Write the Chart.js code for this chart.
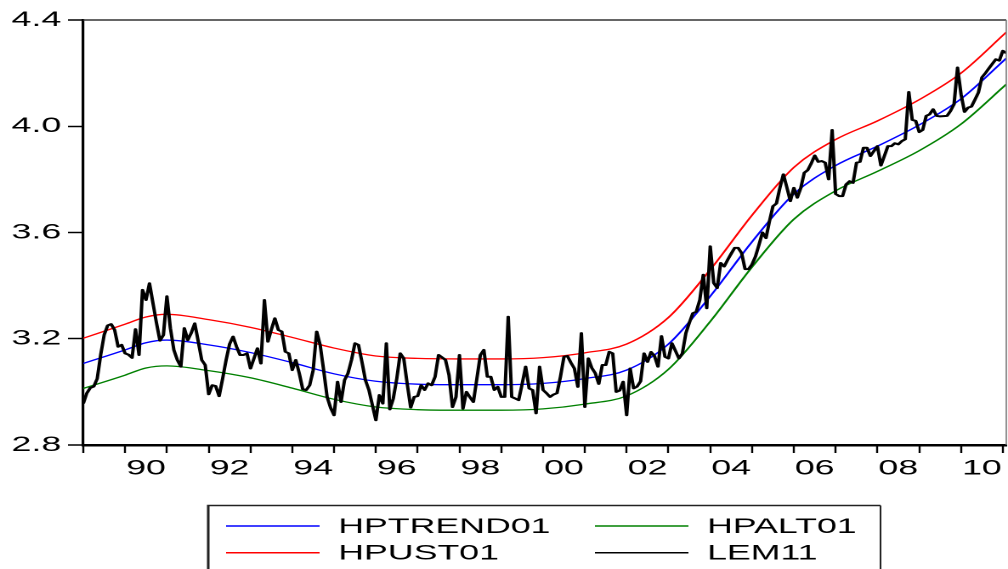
<!DOCTYPE html>
<html>
<head>
<meta charset="utf-8">
<script src="https://cdn.jsdelivr.net/npm/chart.js@4.4.0/dist/chart.umd.min.js"></script>
<style>
html, body { margin: 0; padding: 0; background: #fff; overflow: hidden; }
/* the original graph is stretched sideways, so draw narrow and widen it */
#wrap { width: 593px; height: 569px; transform: scale(1.6998, 1); transform-origin: 0 0; }
</style>
</head>
<body>
<div id="wrap"><canvas id="chart" width="593" height="569"></canvas></div>
<script>
// monthly data, first observation 1989M01, last 2011M02
var startYear = 1989;

var lem11 = [
  2.956, 2.995, 3.015, 3.020, 3.050, 3.140, 3.215, 3.250, 3.255, 3.233,
  3.170, 3.177, 3.145, 3.140, 3.128, 3.236, 3.139, 3.384, 3.346, 3.409,
  3.334, 3.260, 3.193, 3.214, 3.360, 3.240, 3.158, 3.120, 3.095, 3.240,
  3.195, 3.222, 3.258, 3.190, 3.120, 3.101, 2.991, 3.025, 3.022, 2.984,
  3.050, 3.120, 3.180, 3.208, 3.170, 3.139, 3.139, 3.145, 3.088, 3.126,
  3.164, 3.107, 3.346, 3.189, 3.235, 3.277, 3.233, 3.227, 3.151, 3.145,
  3.082, 3.120, 3.070, 3.010, 3.007, 3.025, 3.082, 3.227, 3.177, 3.082,
  2.981, 2.940, 2.912, 3.038, 2.962, 3.044, 3.070, 3.120, 3.183, 3.177,
  3.113, 3.044, 3.007, 2.950, 2.893, 2.988, 2.956, 3.183, 2.934, 2.975,
  3.050, 3.145, 3.126, 3.030, 2.941, 2.981, 2.984, 3.025, 3.007, 3.032,
  3.025, 3.057, 3.139, 3.130, 3.120, 3.063, 2.943, 2.981, 3.139, 2.937,
  3.000, 2.980, 2.962, 3.050, 3.139, 3.158, 3.057, 3.057, 3.007, 3.019,
  2.981, 2.981, 3.283, 2.981, 2.975, 2.969, 3.030, 3.095, 3.013, 3.007,
  2.919, 3.095, 3.007, 2.995, 2.981, 2.990, 2.995, 3.057, 3.132, 3.135,
  3.110, 3.088, 3.019, 3.221, 2.943, 3.126, 3.090, 3.070, 3.030, 3.101,
  3.101, 3.151, 3.145, 3.000, 3.005, 3.038, 2.912, 3.088, 3.013, 3.020,
  3.040, 3.145, 3.113, 3.150, 3.135, 3.095, 3.210, 3.132, 3.126, 3.183,
  3.155, 3.126, 3.145, 3.221, 3.260, 3.296, 3.302, 3.346, 3.441, 3.315,
  3.548, 3.410, 3.391, 3.485, 3.472, 3.497, 3.520, 3.542, 3.542, 3.523,
  3.462, 3.462, 3.480, 3.510, 3.554, 3.600, 3.579, 3.642, 3.699, 3.709,
  3.768, 3.819, 3.770, 3.718, 3.768, 3.731, 3.768, 3.825, 3.835, 3.860,
  3.890, 3.866, 3.869, 3.863, 3.800, 3.986, 3.745, 3.737, 3.737, 3.781,
  3.793, 3.787, 3.863, 3.866, 3.919, 3.919, 3.888, 3.907, 3.925, 3.852,
  3.888, 3.925, 3.925, 3.936, 3.932, 3.944, 3.951, 4.129, 4.024, 4.020,
  3.978, 3.986, 4.039, 4.045, 4.064, 4.039, 4.037, 4.038, 4.039, 4.058,
  4.083, 4.221, 4.121, 4.054, 4.070, 4.074, 4.100, 4.127, 4.184, 4.200,
  4.218, 4.235, 4.252, 4.247, 4.284, 4.275
];

// smooth filters, read at these months (0 = 1989M01)
var trendMonths = [0, 12, 18, 24, 36, 48, 60, 72, 84, 96, 108, 120, 132, 144, 156, 168, 180, 192, 204, 216, 228, 240, 252, 265];
var hptrend01 = [3.107, 3.158, 3.185, 3.195, 3.177, 3.148, 3.110, 3.068, 3.040, 3.029, 3.027, 3.027, 3.032, 3.050, 3.082, 3.180, 3.360, 3.565, 3.745, 3.852, 3.925, 4.005, 4.103, 4.256];
var hpust01 = [3.202, 3.255, 3.282, 3.292, 3.272, 3.243, 3.205, 3.165, 3.135, 3.126, 3.124, 3.124, 3.129, 3.147, 3.180, 3.280, 3.460, 3.665, 3.845, 3.950, 4.020, 4.100, 4.200, 4.354];
var hpalt01 = [3.013, 3.063, 3.090, 3.098, 3.080, 3.053, 3.014, 2.972, 2.943, 2.933, 2.931, 2.931, 2.936, 2.954, 2.985, 3.085, 3.265, 3.470, 3.650, 3.757, 3.830, 3.908, 4.008, 4.158];

var yTicks = [2.8, 3.2, 3.6, 4.0, 4.4];
var firstYear = 1989, lastYear = 2011;

function toPoints(months, vals) {
  return vals.map(function (v, i) { return {x: startYear + months[i] / 12, y: v}; });
}
var lemMonths = lem11.map(function (v, i) { return i; });

// ticks every half year: marks on the years, labels in the middle of even years
var xTicks = [];
for (var yr = firstYear; yr <= lastYear; yr++) {
  xTicks.push({value: yr});
  if (yr < lastYear) xTicks.push({value: yr + 0.5});
}

Chart.defaults.font.family = "'Liberation Sans', Arial, sans-serif";
Chart.defaults.color = '#000';

var plotFrame = {
  id: 'plotFrame',
  afterDraw: function (chart) {
    var a = chart.chartArea, ctx = chart.ctx;
    ctx.save();
    ctx.lineWidth = 1.5;
    ctx.strokeStyle = '#333';
    ctx.beginPath(); ctx.moveTo(a.left, a.top); ctx.lineTo(a.right, a.top); ctx.stroke();
    ctx.lineWidth = 0.8;
    ctx.strokeStyle = '#777';
    ctx.beginPath(); ctx.moveTo(a.right, a.top); ctx.lineTo(a.right, a.bottom); ctx.stroke();
    ctx.restore();
  }
};

// two-column boxed legend like the EViews one
var legendLayout = [['HPTREND01', 'HPALT01'], ['HPUST01', 'LEM11']];
var boxLegend = {
  id: 'boxLegend',
  afterDraw: function (chart) {
    var ctx = chart.ctx;
    var left = 122.5, top = 505.5, right = 518, bottom = 575;
    var colX = [133, 350], rowY = [526, 552.7], lineLen = 55, textGap = 11;
    ctx.save();
    ctx.strokeStyle = '#222';
    ctx.lineWidth = 1.5;
    ctx.beginPath(); ctx.moveTo(left, bottom); ctx.lineTo(left, top); ctx.lineTo(right, top); ctx.stroke();
    ctx.lineWidth = 1;
    ctx.beginPath(); ctx.moveTo(right, top); ctx.lineTo(right, bottom); ctx.stroke();
    ctx.font = "21px 'Liberation Sans', Arial, sans-serif";
    ctx.textBaseline = 'middle';
    ctx.textAlign = 'left';
    legendLayout.forEach(function (row, r) {
      row.forEach(function (label, c) {
        var ds = chart.data.datasets.find(function (d) { return d.label === label; });
        ctx.strokeStyle = ds.borderColor;
        ctx.lineWidth = 1.5;
        ctx.beginPath();
        ctx.moveTo(colX[c], rowY[r]);
        ctx.lineTo(colX[c] + lineLen, rowY[r]);
        ctx.stroke();
        ctx.fillStyle = '#000';
        ctx.fillText(label, colX[c] + lineLen + textGap, rowY[r] + 1);
      });
    });
    ctx.restore();
  }
};

var ctx1 = document.getElementById('chart').getContext('2d');
var chart1 = new Chart(ctx1, {
  type: 'line',
  data: {
    datasets: [{
        label: 'LEM11',
        data: toPoints(lemMonths, lem11),
        borderColor: '#000000',
        borderWidth: 2,
        borderJoinStyle: 'round'
    }, {
        label: 'HPTREND01',
        data: toPoints(trendMonths, hptrend01),
        borderColor: '#0000ff',
        borderWidth: 1.3,
        cubicInterpolationMode: 'monotone'
    }, {
        label: 'HPUST01',
        data: toPoints(trendMonths, hpust01),
        borderColor: '#ff0000',
        borderWidth: 1.3,
        cubicInterpolationMode: 'monotone'
    }, {
        label: 'HPALT01',
        data: toPoints(trendMonths, hpalt01),
        borderColor: '#008000',
        borderWidth: 1.3,
        cubicInterpolationMode: 'monotone'
    }]
  },
  options: {
    responsive: false,
    animation: false,
    devicePixelRatio: 2,
    layout: { padding: { top: 20, right: 1, left: 0, bottom: 0 } },
    elements: { point: { radius: 0 }, line: { fill: false } },
    plugins: { legend: { display: false }, tooltip: { enabled: false } },
    scales: {
      x: {
        type: 'linear',
        min: startYear,
        max: startYear + (lem11.length - 1) / 12,
        afterBuildTicks: function (s) { s.ticks = xTicks.slice(); },
        afterFit: function (s) { s.height = 124; },
        ticks: {
          autoSkip: false, maxRotation: 0, padding: 3,
          font: { size: 21 },
          callback: function (v) {
            var y = Math.floor(v);
            if (v - y === 0.5 && y % 2 === 0) return String(y % 100).padStart(2, '0');
            return '';
          }
        },
        grid: {
          drawOnChartArea: false, tickLength: 8, tickWidth: 1.2,
          tickColor: function (c) { return (c.tick && c.tick.value % 1 === 0) ? '#000' : 'rgba(0,0,0,0)'; }
        },
        border: { color: '#000', width: 2.5 }
      },
      y: {
        min: 2.8,
        max: 4.4,
        afterBuildTicks: function (s) { s.ticks = yTicks.map(function (v) { return {value: v}; }); },
        afterFit: function (s) { s.width = 49; },
        ticks: {
          padding: 4,
          font: { size: 21 },
          callback: function (v) { return v.toFixed(1); }
        },
        grid: { drawOnChartArea: false, tickLength: 9, tickWidth: 1.5, tickColor: '#000' },
        border: { color: '#000', width: 1.6 }
      }
    }
  },
  plugins: [plotFrame, boxLegend]
});
</script>
</body>
</html>
